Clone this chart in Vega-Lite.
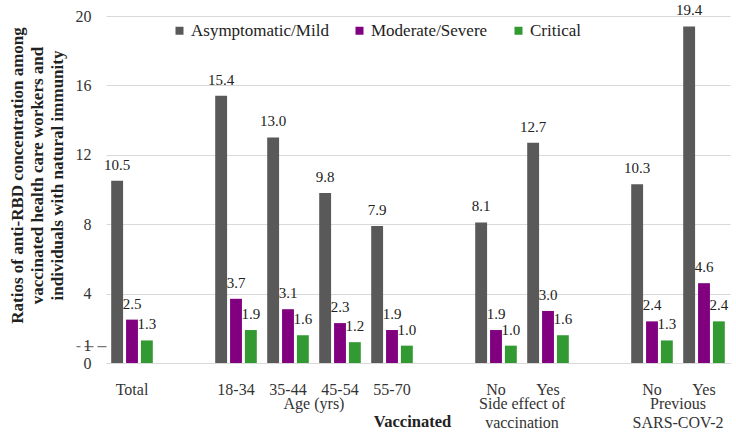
{
  "$schema": "https://vega.github.io/schema/vega-lite/v6.json",
  "width": 624,
  "height": 347,
  "autosize": {"type": "none"},
  "padding": {"left": 106, "top": 16, "right": 6, "bottom": 72},
  "background": "white",
  "config": {
    "font": "Liberation Serif",
    "view": {"stroke": null},
    "text": {"font": "Liberation Serif"},
    "legend": {"labelFont": "Liberation Serif"},
    "axis": {"labelFont": "Liberation Serif", "titleFont": "Liberation Serif"}
  },
  "datasets": {
    "bars": [
      {"cat": "Total", "series": "Asymptomatic/Mild", "value": 10.5},
      {"cat": "Total", "series": "Moderate/Severe", "value": 2.5},
      {"cat": "Total", "series": "Critical", "value": 1.3},
      {"cat": "18-34", "series": "Asymptomatic/Mild", "value": 15.4},
      {"cat": "18-34", "series": "Moderate/Severe", "value": 3.7},
      {"cat": "18-34", "series": "Critical", "value": 1.9},
      {"cat": "35-44", "series": "Asymptomatic/Mild", "value": 13.0},
      {"cat": "35-44", "series": "Moderate/Severe", "value": 3.1},
      {"cat": "35-44", "series": "Critical", "value": 1.6},
      {"cat": "45-54", "series": "Asymptomatic/Mild", "value": 9.8},
      {"cat": "45-54", "series": "Moderate/Severe", "value": 2.3},
      {"cat": "45-54", "series": "Critical", "value": 1.2},
      {"cat": "55-70", "series": "Asymptomatic/Mild", "value": 7.9},
      {"cat": "55-70", "series": "Moderate/Severe", "value": 1.9},
      {"cat": "55-70", "series": "Critical", "value": 1.0},
      {"cat": "SE No", "series": "Asymptomatic/Mild", "value": 8.1},
      {"cat": "SE No", "series": "Moderate/Severe", "value": 1.9},
      {"cat": "SE No", "series": "Critical", "value": 1.0},
      {"cat": "SE Yes", "series": "Asymptomatic/Mild", "value": 12.7},
      {"cat": "SE Yes", "series": "Moderate/Severe", "value": 3.0},
      {"cat": "SE Yes", "series": "Critical", "value": 1.6},
      {"cat": "Prev No", "series": "Asymptomatic/Mild", "value": 10.3},
      {"cat": "Prev No", "series": "Moderate/Severe", "value": 2.4},
      {"cat": "Prev No", "series": "Critical", "value": 1.3},
      {"cat": "Prev Yes", "series": "Asymptomatic/Mild", "value": 19.4},
      {"cat": "Prev Yes", "series": "Moderate/Severe", "value": 4.6},
      {"cat": "Prev Yes", "series": "Critical", "value": 2.4}
    ],
    "groups": [
      {"anchor": "35-44", "label": "Age (yrs)"},
      {"anchor": "SE No", "label": "Side effect of\nvaccination"},
      {"anchor": "Prev No", "label": "Previous\nSARS-COV-2"}
    ]
  },
  "layer": [
    {
      "data": {"name": "bars"},
      "mark": {"type": "bar"},
      "encoding": {
        "x": {
          "field": "cat", "type": "nominal",
          "scale": {"domain": ["Total", "g1", "18-34", "35-44", "45-54", "55-70", "g2", "SE No", "SE Yes", "g3", "Prev No", "Prev Yes"], "paddingInner": 0.2, "paddingOuter": 0.1},
          "axis": {
            "title": "Vaccinated",
            "titleFont": "Liberation Serif",
            "titleFontWeight": "bold",
            "titleFontSize": 16.5,
            "titleColor": "#222222",
            "titlePadding": 16,
            "titleX": 306,
            "labelAngle": 0,
            "labelFont": "Liberation Serif",
            "labelFontSize": 16,
            "labelColor": "#333333",
            "labelPadding": 18,
            "ticks": false,
            "domainColor": "#d9d9d9",
            "domainWidth": 1,
            "grid": false,
            "labelExpr": "indexof(['g1','g2','g3'], datum.value) >= 0 ? '' : replace(replace(datum.value, 'SE ', ''), 'Prev ', '')"
          }
        },
        "xOffset": {
          "field": "series", "type": "nominal",
          "scale": {"domain": ["Asymptomatic/Mild", "Moderate/Severe", "Critical"], "paddingInner": 0.2, "paddingOuter": 0}
        },
        "y": {
          "field": "value", "type": "quantitative",
          "scale": {"domain": [0, 20], "nice": false},
          "axis": {
            "values": [0, 1, 4, 8, 12, 16, 20],
            "domain": false,
            "tickSize": 30,
            "tickWidth": 1.25,
            "tickDash": [9, 4],
            "tickColor": {"condition": {"test": "datum.value === 1", "value": "#767676"}, "value": "transparent"},
            "gridColor": {"condition": {"test": "datum.value === 1", "value": "transparent"}, "value": "#d9d9d9"},
            "labelPadding": -15,
            "labelFont": "Liberation Serif",
            "labelFontSize": 16,
            "labelColor": "#333333",
            "title": ["Ratios of anti-RBD concentration among", "vaccinated health care workers and", "individuals with natural immunity"],
            "titleFont": "Liberation Serif",
            "titleFontSize": 17,
            "titleFontWeight": "bold",
            "titleColor": "#222222",
            "titleLineHeight": 20,
            "titlePadding": 9,
            "titleY": 159
          }
        },
        "color": {
          "field": "series", "type": "nominal",
          "scale": {"domain": ["Asymptomatic/Mild", "Moderate/Severe", "Critical"], "range": ["#595959", "#800080", "#339933"]},
          "legend": {
            "title": null,
            "orient": "none",
            "direction": "horizontal",
            "legendX": 65,
            "legendY": 6,
            "symbolType": "square",
            "symbolSize": 64,
            "symbolStrokeWidth": 0,
            "labelFont": "Liberation Serif",
            "labelFontSize": 17,
            "labelColor": "#222222",
            "labelOffset": 3,
            "columnPadding": 22
          }
        }
      }
    },
    {
      "data": {"name": "bars"},
      "mark": {"type": "text", "font": "Liberation Serif", "fontSize": 15, "color": "#222222", "baseline": "alphabetic", "dy": -11},
      "encoding": {
        "x": {"field": "cat", "type": "nominal"},
        "xOffset": {"field": "series", "type": "nominal"},
        "y": {"field": "value", "type": "quantitative"},
        "text": {"field": "value", "type": "quantitative", "format": ".1f"}
      }
    },
    {
      "mark": {"type": "rule", "color": "#767676", "strokeDash": [8, 5], "strokeWidth": 1.25},
      "encoding": {"y": {"datum": 1}}
    },
    {
      "data": {"name": "groups"},
      "mark": {"type": "text", "font": "Liberation Serif", "fontSize": 16, "color": "#333333", "baseline": "alphabetic", "lineBreak": "\n", "lineHeight": 19},
      "encoding": {
        "x": {"field": "anchor", "type": "nominal", "bandPosition": 1.125},
        "y": {"datum": -2.64},
        "text": {"field": "label"}
      }
    }
  ]
}
